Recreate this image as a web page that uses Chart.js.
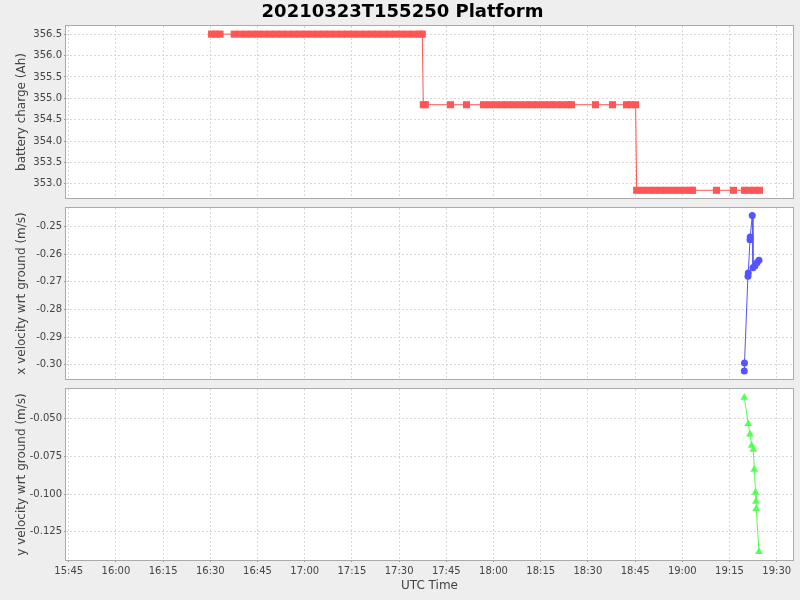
<!DOCTYPE html>
<html>
<head>
<meta charset="utf-8">
<title>20210323T155250 Platform</title>
<script src="https://cdn.jsdelivr.net/npm/chart.js@4.4.1/dist/chart.umd.min.js"></script>
<style>
  html, body { margin: 0; padding: 0; background: #eeeeee; }
  #wrap { position: relative; width: 800px; height: 600px; overflow: hidden; }
  canvas { position: absolute; left: 0; }
</style>
</head>
<body>
<div id="wrap">
  <canvas id="battery" width="800" height="200" style="top:0px"></canvas>
  <canvas id="xvel" width="800" height="180" style="top:200px"></canvas>
  <canvas id="yvel" width="800" height="220" style="top:380px"></canvas>
</div>
<script>
// sample times (UTC, hh:mm:ss) and values
const batteryTimes = [
  "16:30:24", "16:31:48", "16:33:06",
  "16:37:36", "16:39:30", "16:41:24", "16:43:18", "16:45:12", "16:47:06", "16:49:00", "16:50:54",
  "16:52:48", "16:54:42", "16:56:36", "16:58:30", "17:00:24", "17:02:18", "17:04:12", "17:06:06",
  "17:08:00", "17:09:54", "17:11:48", "17:13:42", "17:15:36", "17:17:30", "17:19:24", "17:21:18",
  "17:23:12", "17:25:06", "17:27:00", "17:28:54", "17:30:48", "17:32:42", "17:34:36", "17:36:30", "17:37:22",
  "17:37:41", "17:38:20", "17:46:20", "17:51:25",
  "17:56:49", "17:58:45", "18:00:41", "18:02:37", "18:04:33", "18:06:29", "18:08:25", "18:10:21",
  "18:12:17", "18:14:13", "18:16:09", "18:18:05", "18:20:01", "18:21:57", "18:23:53", "18:24:47",
  "18:32:25", "18:37:49", "18:42:16", "18:43:40", "18:45:10",
  "18:45:30", "18:47:24", "18:49:18", "18:51:12", "18:53:06", "18:55:00", "18:56:54", "18:58:48",
  "19:00:42", "19:02:36", "19:03:14", "19:10:52", "19:16:16",
  "19:19:46", "19:21:20", "19:22:56", "19:24:32"
];
const batteryCharge = [
  356.5, 356.5, 356.5,
  356.5, 356.5, 356.5, 356.5, 356.5, 356.5, 356.5, 356.5,
  356.5, 356.5, 356.5, 356.5, 356.5, 356.5, 356.5, 356.5,
  356.5, 356.5, 356.5, 356.5, 356.5, 356.5, 356.5, 356.5,
  356.5, 356.5, 356.5, 356.5, 356.5, 356.5, 356.5, 356.5, 356.5,
  354.85, 354.85, 354.85, 354.85,
  354.85, 354.85, 354.85, 354.85, 354.85, 354.85, 354.85, 354.85,
  354.85, 354.85, 354.85, 354.85, 354.85, 354.85, 354.85, 354.85,
  354.85, 354.85, 354.85, 354.85, 354.85,
  352.85, 352.85, 352.85, 352.85, 352.85, 352.85, 352.85, 352.85,
  352.85, 352.85, 352.85, 352.85, 352.85,
  352.85, 352.85, 352.85, 352.85
];

const xVelTimes = [
  "19:19:42", "19:19:46", "19:20:52", "19:20:58", "19:21:31", "19:21:35",
  "19:22:14", "19:22:28", "19:23:06", "19:23:44", "19:24:22"
];
const xVelocity = [
  -0.3023, -0.2994, -0.2680, -0.2668, -0.2548, -0.2538,
  -0.2460, -0.2649, -0.2642, -0.2631, -0.2622
];

const yVelTimes = [
  "19:19:42", "19:20:58", "19:21:31", "19:22:03", "19:22:34",
  "19:22:53", "19:23:16", "19:23:25", "19:23:31", "19:24:22"
];
const yVelocity = [
  -0.0360, -0.0533, -0.0604, -0.0678, -0.0704,
  -0.0837, -0.0990, -0.1050, -0.1098, -0.1384
];

const timeTicks = ["15:45", "16:00", "16:15", "16:30", "16:45", "17:00", "17:15", "17:30",
  "17:45", "18:00", "18:15", "18:30", "18:45", "19:00", "19:15", "19:30"];
const batteryTicks = [353.0, 353.5, 354.0, 354.5, 355.0, 355.5, 356.0, 356.5];
const xVelTicks = [-0.30, -0.29, -0.28, -0.27, -0.26, -0.25];
const yVelTicks = [-0.125, -0.100, -0.075, -0.050];

const timeMin = "15:44:08";
const timeMax = "19:35:11";

function toMinutes(s) {
  const p = s.split(":").map(Number);
  return p[0] * 60 + p[1] + (p[2] || 0) / 60;
}

function fmtTime(m) {
  const h = Math.floor(m / 60);
  const mm = Math.round(m - h * 60);
  return h + ":" + String(mm).padStart(2, "0");
}

Chart.defaults.font.family = "'DejaVu Sans', sans-serif";
Chart.defaults.color = "#444";

// white plot background and grey outline, like the original plot
const plotFrame = {
  id: "plotFrame",
  beforeDraw(chart) {
    const { ctx, chartArea: a } = chart;
    ctx.save();
    ctx.fillStyle = "#ffffff";
    ctx.fillRect(a.left, a.top, a.right - a.left, a.bottom - a.top);
    ctx.restore();
  },
  afterDraw(chart) {
    const { ctx, chartArea: a } = chart;
    ctx.save();
    ctx.strokeStyle = "#aaaaaa";
    ctx.lineWidth = 1;
    ctx.strokeRect(Math.round(a.left) - 0.5, Math.round(a.top) - 0.5,
      Math.round(a.right - a.left) + 1, Math.round(a.bottom - a.top) + 1);
    ctx.restore();
  }
};

const gridStyle = { color: "#d8d8d8", tickColor: "#999", tickLength: 2 };

function makePanel(id, opts) {
  const ctx = document.getElementById(id).getContext("2d");
  const points = opts.times.map((t, i) => ({ x: toMinutes(t), y: opts.values[i] }));

  return new Chart(ctx, {
    type: "line",
    data: {
      datasets: [{
        data: points,
        borderColor: opts.color,
        backgroundColor: opts.color,
        borderWidth: 1,
        pointStyle: opts.marker,
        pointRadius: opts.markerSize,
        pointBorderWidth: 0,
        tension: 0
      }]
    },
    plugins: [plotFrame],
    options: {
      responsive: false,
      animation: false,
      devicePixelRatio: 1,
      layout: {
        autoPadding: false,
        padding: { left: 12, right: 7, top: opts.padTop, bottom: opts.padBottom }
      },
      plugins: {
        legend: { display: false },
        tooltip: { enabled: false },
        title: opts.title ? {
          display: true,
          text: opts.title,
          color: "#000",
          font: { size: 18, weight: "bold" },
          padding: { top: 1.5, bottom: 2.9 }
        } : { display: false }
      },
      scales: {
        x: {
          type: "linear",
          min: toMinutes(timeMin),
          max: toMinutes(timeMax),
          grid: Object.assign({ drawTicks: opts.showTime }, gridStyle),
          border: { display: false, dash: [2, 2] },
          afterBuildTicks: (scale) => {
            scale.ticks = timeTicks.map(t => ({ value: toMinutes(t) }));
          },
          afterFit: (scale) => {
            scale.paddingLeft = 0;
            scale.paddingRight = 0;
            scale.height = opts.showTime ? 36 : 0;
          },
          ticks: {
            display: opts.showTime,
            padding: 3,
            maxRotation: 0,
            autoSkip: false,
            font: { size: 10 },
            callback: (v) => fmtTime(v)
          },
          title: {
            display: opts.showTime,
            text: "UTC Time",
            font: { size: 12 },
            padding: { top: 0, bottom: 3 }
          }
        },
        y: {
          min: opts.yMin,
          max: opts.yMax,
          grid: Object.assign({}, gridStyle),
          border: { display: false, dash: [2, 2] },
          afterBuildTicks: (scale) => {
            scale.ticks = opts.yTicks.map(v => ({ value: v }));
          },
          afterFit: (scale) => {
            scale.width = 54;
            scale.paddingTop = 0;
            scale.paddingBottom = 0;
          },
          ticks: {
            padding: 2,
            font: { size: 10 },
            callback: (v) => Number(v).toFixed(opts.decimals)
          },
          title: {
            display: true,
            text: opts.yLabel,
            font: { size: 12 },
            padding: { top: 3, bottom: 0 }
          }
        }
      }
    }
  });
}

makePanel("battery", {
  title: "20210323T155250 Platform",
  times: batteryTimes,
  values: batteryCharge,
  color: "#ff5555",
  marker: "rect",
  markerSize: 5,
  yLabel: "battery charge (Ah)",
  yTicks: batteryTicks,
  yMin: 352.67,
  yMax: 356.69,
  decimals: 1,
  showTime: false,
  padTop: 0,
  padBottom: 2
});

makePanel("xvel", {
  times: xVelTimes,
  values: xVelocity,
  color: "#5555ff",
  marker: "circle",
  markerSize: 3.5,
  yLabel: "x velocity wrt ground (m/s)",
  yTicks: xVelTicks,
  yMin: -0.3052,
  yMax: -0.2433,
  decimals: 2,
  showTime: false,
  padTop: 8,
  padBottom: 1
});

makePanel("yvel", {
  times: yVelTimes,
  values: yVelocity,
  color: "#55ff55",
  marker: "triangle",
  markerSize: 4.5,
  yLabel: "y velocity wrt ground (m/s)",
  yTicks: yVelTicks,
  yMin: -0.1438,
  yMax: -0.0303,
  decimals: 3,
  showTime: true,
  padTop: 9,
  padBottom: 4
});
</script>
</body>
</html>
